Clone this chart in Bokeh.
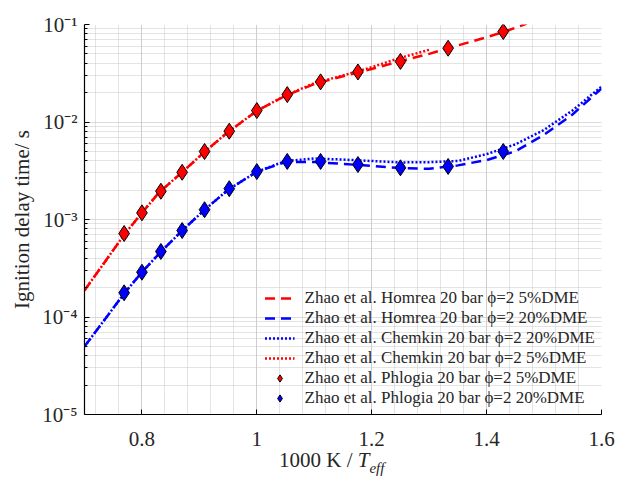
from bokeh.plotting import figure
from bokeh.layouts import column
from bokeh.models import (FixedTicker, CustomJSTickFormatter, Legend, LegendItem, Range1d, Div)
from bokeh.embed import file_html
from bokeh.resources import INLINE

# ---------------- data ----------------
x_exp = [0.769, 0.800, 0.833, 0.870, 0.909, 0.952, 1.000, 1.053, 1.111, 1.176, 1.250, 1.333, 1.429]
red_exp = [7.18e-4, 1.17e-3, 1.95e-3, 3.05e-3, 4.98e-3, 8.05e-3, 1.31e-2, 1.91e-2, 2.58e-2, 3.26e-2, 4.18e-2, 5.71e-2, 8.47e-2]
blue_exp = [1.77e-4, 2.88e-4, 4.70e-4, 7.71e-4, 1.26e-3, 2.07e-3, 3.10e-3, 3.94e-3, 3.94e-3, 3.66e-3, 3.39e-3, 3.50e-3, 4.98e-3]

x_red_homrea = [0.70, 0.77, 0.80, 0.83, 0.87, 0.91, 0.95, 1.00, 1.05, 1.10, 1.15, 1.20, 1.25, 1.30, 1.35, 1.40, 1.43, 1.47]
red_homrea = [1.87e-4, 7.1e-4, 1.17e-3, 1.90e-3, 3.05e-3, 5.0e-3, 7.9e-3, 1.30e-2, 1.86e-2, 2.45e-2, 2.95e-2, 3.5e-2, 4.2e-2, 5.0e-2, 6.1e-2, 7.4e-2, 8.4e-2, 1.02e-1]

x_red_chemkin = [0.70, 0.77, 0.80, 0.83, 0.87, 0.91, 0.95, 1.00, 1.05, 1.10, 1.15, 1.20, 1.25, 1.30]
red_chemkin = [1.87e-4, 7.1e-4, 1.17e-3, 1.90e-3, 3.05e-3, 5.0e-3, 7.9e-3, 1.30e-2, 1.87e-2, 2.50e-2, 3.0e-2, 3.65e-2, 4.55e-2, 5.5e-2]

x_blue = [0.70, 0.77, 0.80, 0.83, 0.87, 0.91, 0.95, 1.00, 1.05, 1.10, 1.15, 1.20, 1.25, 1.30, 1.35, 1.40, 1.45, 1.50, 1.55, 1.60]
blue_homrea = [4.98e-5, 1.77e-4, 2.88e-4, 4.47e-4, 7.7e-4, 1.27e-3, 2.02e-3, 3.09e-3, 3.89e-3, 3.89e-3, 3.72e-3, 3.55e-3, 3.37e-3, 3.31e-3, 3.59e-3, 4.07e-3, 5.0e-3, 7.4e-3, 1.2e-2, 2.21e-2]
blue_chemkin = [4.98e-5, 1.77e-4, 2.88e-4, 4.47e-4, 7.7e-4, 1.27e-3, 2.02e-3, 3.09e-3, 3.98e-3, 4.22e-3, 4.12e-3, 3.98e-3, 3.85e-3, 3.87e-3, 3.98e-3, 4.68e-3, 5.89e-3, 8.3e-3, 1.32e-2, 2.31e-2]

x_ticks = [0.8, 1.0, 1.2, 1.4, 1.6]
y_ticks = [1e-5, 1e-4, 1e-3, 1e-2, 1e-1]

labels = [
    "Zhao et al. Homrea 20 bar \u03d5=2 5%DME",
    "Zhao et al. Homrea 20 bar \u03d5=2 20%DME",
    "Zhao et al. Chemkin 20 bar \u03d5=2 20%DME",
    "Zhao et al. Chemkin 20 bar \u03d5=2 5%DME",
    "Zhao et al. Phlogia 20 bar \u03d5=2 5%DME",
    "Zhao et al. Phlogia 20 bar \u03d5=2 20%DME",
]

FONT = "Liberation Serif"
RED = "#ff0000"
BLUE = "#0000ff"
TXT = "#262626"

p = figure(width=625, height=454, y_axis_type="log",
           x_range=Range1d(0.7, 1.6), y_range=Range1d(1e-5, 1e-1),
           output_backend="svg", toolbar_location=None,
           min_border_left=84, min_border_right=24, min_border_top=24, min_border_bottom=40)
p.outline_line_color = None
p.background_fill_color = "white"
p.border_fill_color = "white"

# ticks
minor_x = [round(0.72 + 0.04 * i, 2) for i in range(23)]
p.xaxis.ticker = FixedTicker(ticks=x_ticks, minor_ticks=minor_x)
minor_y = [m * d for d in y_ticks[:-1] for m in range(2, 10)]
p.yaxis.ticker = FixedTicker(ticks=y_ticks, minor_ticks=minor_y)

p.xaxis.formatter = CustomJSTickFormatter(code="""
    return tick.toFixed(1).replace(/\\.0$/, "");
""")
p.yaxis.formatter = CustomJSTickFormatter(code="""
    const sup = {"-":"\u207b","0":"\u2070","1":"\u00b9","2":"\u00b2","3":"\u00b3","4":"\u2074","5":"\u2075","6":"\u2076","7":"\u2077","8":"\u2078","9":"\u2079"};
    const e = Math.round(Math.log10(tick));
    return "10" + String(e).split("").map(c => sup[c]).join("");
""")

for ax in (p.xaxis, p.yaxis):
    ax.axis_line_color = "black"
    ax.axis_line_width = 1.2
    ax.major_tick_line_color = "black"
    ax.major_tick_in = 5
    ax.major_tick_out = 0
    ax.major_label_text_font = FONT
    ax.major_label_text_font_size = "21px"
    ax.major_label_text_color = TXT
p.xaxis.minor_tick_line_color = None
p.yaxis.minor_tick_in = 3
p.yaxis.minor_tick_out = 0
p.yaxis.minor_tick_line_color = "black"
p.xaxis.major_label_standoff = 13
p.yaxis.major_label_standoff = 7

p.yaxis.axis_label = "Ignition delay time/ s"
p.yaxis.axis_label_text_font = FONT
p.yaxis.axis_label_text_font_size = "21px"
p.yaxis.axis_label_text_font_style = "normal"
p.yaxis.axis_label_text_color = TXT
p.yaxis.axis_label_standoff = 5

for g in (p.xgrid, p.ygrid):
    g.grid_line_color = "#b8b8b8"
    g.grid_line_dash = "1 1"
    g.grid_line_width = 1
    g.minor_grid_line_color = "#c8c8c8"
    g.minor_grid_line_dash = "1 1"
    g.minor_grid_line_width = 1

# curves
r1 = p.line(x_red_homrea, red_homrea, line_color=RED, line_width=2.5, line_dash="10 6")
r2 = p.line(x_blue, blue_homrea, line_color=BLUE, line_width=2.5, line_dash="10 6")
r3 = p.line(x_blue, blue_chemkin, line_color=BLUE, line_width=2.5, line_dash="2 2")
r4 = p.line(x_red_chemkin, red_chemkin, line_color=RED, line_width=2.5, line_dash="2 2")
r5 = p.scatter(x_exp, red_exp, marker="diamond", size=16, fill_color=RED, line_color="black", line_width=1)
r6 = p.scatter(x_exp, blue_exp, marker="diamond", size=16, fill_color=BLUE, line_color="black", line_width=1)

legend = Legend(items=[LegendItem(label=l, renderers=[r]) for l, r in zip(labels, [r1, r2, r3, r4, r5, r6])],
                location="bottom_right")
legend.label_text_font = FONT
legend.label_text_font_size = "17px"
legend.label_text_color = TXT
legend.label_height = 18
legend.glyph_height = 18
legend.glyph_width = 30
legend.label_standoff = 10
legend.spacing = 0
legend.padding = 3
legend.margin = 6
legend.border_line_color = None
legend.background_fill_alpha = 0
p.add_layout(legend)

xlabel = Div(
    text=('<div style="position:relative; top:-4px; left:279px; white-space:nowrap; '
          'font-family:\'Liberation Serif\'; font-size:21px; line-height:21px; color:#262626;">'
          '1000 K / <i>T</i><sub style="font-size:15px; font-style:italic; vertical-align:-6px;">eff</sub></div>'),
    width=625, height=30, margin=0)

layout = column(p, xlabel, spacing=0)
open("out.html", "w").write(file_html(layout, INLINE))
